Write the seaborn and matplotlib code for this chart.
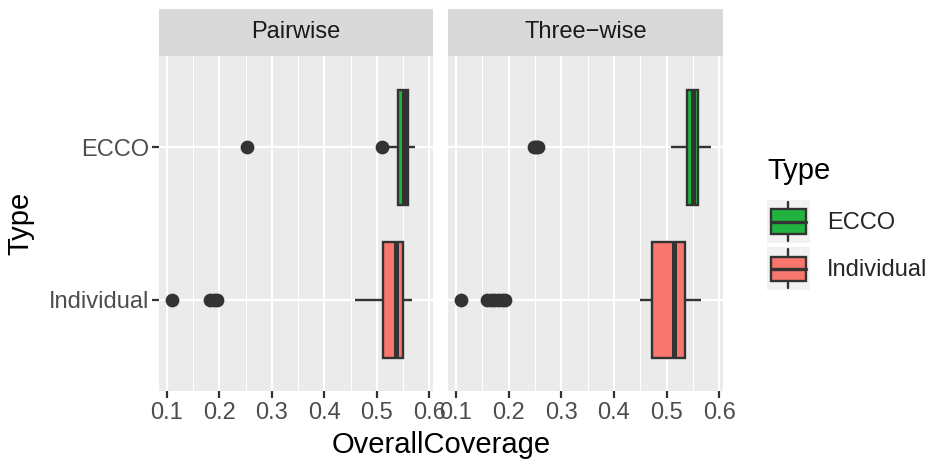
import matplotlib
matplotlib.use("Agg")
import matplotlib.pyplot as plt
import seaborn as sns
import pandas as pd
from matplotlib.legend_handler import HandlerBase
from matplotlib.patches import Rectangle
from matplotlib.lines import Line2D
from matplotlib.ticker import FixedLocator

# ---------------- data ----------------
panels = ["Pairwise", "Three\u2212wise"]
types = ["ECCO", "Individual"]
# box statistics per panel: [ECCO, Individual]
whisker_low = [[0.523, 0.459], [0.509, 0.449]]
q1 = [[0.541, 0.512], [0.538, 0.472]]
median = [[0.551, 0.537], [0.550, 0.514]]
q3 = [[0.559, 0.550], [0.559, 0.535]]
whisker_high = [[0.572, 0.567], [0.584, 0.566]]
outliers = [
    [[0.252, 0.509], [0.109, 0.183, 0.189, 0.195]],
    [[0.249, 0.252, 0.255], [0.110, 0.159, 0.166, 0.173, 0.180, 0.187, 0.193]],
]
x_ticks = [0.1, 0.2, 0.3, 0.4, 0.5, 0.6]
x_tick_labels = ["0.1", "0.2", "0.3", "0.4", "0.5", "0.6"]
colors = {"ECCO": "#21B33F", "Individual": "#F8766D"}

# Build a long table whose box statistics reproduce the values above
rows = []
BLOCK = 40
for pi, panel in enumerate(panels):
    for ti, t in enumerate(types):
        vals = list(outliers[pi][ti]) + [whisker_low[pi][ti]]
        vals += [q1[pi][ti]] * BLOCK + [median[pi][ti]] * BLOCK + [q3[pi][ti]] * BLOCK
        vals += [whisker_high[pi][ti]]
        for v in vals:
            rows.append({"Panel": panel, "Type": t, "OverallCoverage": v})
df = pd.DataFrame(rows)

# ---------------- figure ----------------
sns.set_style("white")
plt.rcParams["font.family"] = ["Liberation Sans", "DejaVu Sans"]

W, H = 934, 459
fig = plt.figure(figsize=(W / 100, H / 100), dpi=100)

def fx(px):
    return px / W

def fy(py):
    return 1 - py / H

panel_top, panel_bottom = 56, 391
strip_top = 9
panel_x = [(159, 433), (448, 723)]
DARK = "#333333"

axes = []
for pi, panel in enumerate(panels):
    x0, x1 = panel_x[pi]
    ax = fig.add_axes([fx(x0), fy(panel_bottom), fx(x1 - x0), (panel_bottom - panel_top) / H])
    sub = df[df["Panel"] == panel]
    sns.boxplot(
        data=sub, x="OverallCoverage", y="Type", hue="Type",
        order=types, hue_order=types, palette=colors, dodge=False,
        width=0.76, whis=1.5, saturation=1, linecolor=DARK, linewidth=1.7,
        showcaps=False, fliersize=8.9,
        flierprops=dict(marker="o", markerfacecolor=DARK, markeredgecolor=DARK),
        medianprops=dict(linewidth=3.6, color=DARK),
        legend=False, ax=ax,
    )
    ax.set_facecolor("#EBEBEB")
    for s in ax.spines.values():
        s.set_visible(False)
    ax.set_xlim(0.085, 0.607)
    ax.set_ylim(1.6, -0.6)
    ax.set_xticks(x_ticks)
    ax.set_xticklabels(x_tick_labels)
    ax.xaxis.set_minor_locator(FixedLocator([0.15, 0.25, 0.35, 0.45, 0.55]))
    ax.set_axisbelow(True)
    ax.grid(which="major", color="white", linewidth=1.5)
    ax.grid(which="minor", axis="x", color="white", linewidth=0.75)
    ax.tick_params(axis="x", which="major", length=5, width=1.6, color=DARK,
                   labelcolor="#4D4D4D", labelsize=17, pad=3, bottom=True)
    ax.tick_params(axis="x", which="minor", length=0)
    if pi == 0:
        ax.tick_params(axis="y", length=5, width=1.6, color=DARK,
                       labelcolor="#4D4D4D", labelsize=17, pad=2, left=True)
    else:
        ax.tick_params(axis="y", length=0, labelleft=False)
    ax.set_xlabel("")
    ax.set_ylabel("")

    # facet strip
    sax = fig.add_axes([fx(x0), fy(panel_top), fx(x1 - x0), (panel_top - strip_top) / H])
    sax.set_facecolor("#D9D9D9")
    for s in sax.spines.values():
        s.set_visible(False)
    sax.set_xticks([])
    sax.set_yticks([])
    sax.text(0.5, 0.5, panel, ha="center", va="center", fontsize=17, color="#1A1A1A",
             transform=sax.transAxes)
    axes.append(ax)

fig.text(fx((159 + 723) / 2), fy(445), "OverallCoverage", ha="center", va="center",
         fontsize=21, color="black")
fig.text(fx(20), fy((panel_top + panel_bottom) / 2), "Type", ha="center", va="center",
         rotation=90, fontsize=21, color="black")


class BoxKeyHandler(HandlerBase):
    def __init__(self, color):
        super().__init__()
        self.color = color

    def create_artists(self, legend, orig_handle, xdescent, ydescent, width, height,
                       fontsize, trans):
        x0, y0 = -xdescent, -ydescent
        bg = Rectangle((x0, y0), width, height, facecolor="#F2F2F2", edgecolor="none",
                       transform=trans)
        cx = x0 + width / 2
        wl = Line2D([cx, cx], [y0 + 0.05 * height, y0 + 0.95 * height], color=DARK,
                    lw=1.7, transform=trans)
        box = Rectangle((x0 + 0.09 * width, y0 + 0.22 * height), 0.82 * width, 0.56 * height,
                        facecolor=self.color, edgecolor=DARK, lw=1.7, transform=trans)
        med = Line2D([x0 + 0.09 * width, x0 + 0.91 * width],
                     [y0 + 0.5 * height, y0 + 0.5 * height], color=DARK, lw=2.4,
                     transform=trans)
        return [bg, wl, box, med]


# legend title
fig.text(fx(767), fy(179), "Type", ha="left", va="baseline", fontsize=21, color="black")

handles = [Rectangle((0, 0), 1, 1) for _ in types]
hmap = {h: BoxKeyHandler(colors[t]) for h, t in zip(handles, types)}
leg = fig.legend(handles, types, handler_map=hmap,
                 loc="upper left", bbox_to_anchor=(fx(767), fy(200)),
                 frameon=False, fontsize=17,
                 handlelength=1.82, handleheight=2.43, labelspacing=0.17,
                 handletextpad=0.72, borderpad=0, borderaxespad=0)

fig.savefig("out.png", dpi=100)
